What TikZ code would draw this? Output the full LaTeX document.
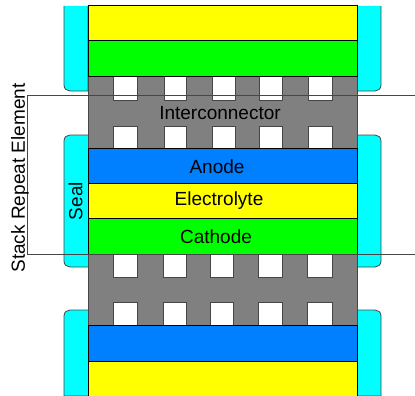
\documentclass[tikz,border=0pt]{standalone}
\usepackage{fontspec}
\setmainfont{Liberation Sans}
\definecolor{sealc}{RGB}{0,255,255}
\definecolor{anodec}{RGB}{0,128,255}
\definecolor{elecc}{RGB}{255,255,0}
\definecolor{cathc}{RGB}{0,255,0}
\definecolor{interc}{RGB}{128,128,128}
\definecolor{linec}{RGB}{70,70,70}
\tikzset{
  layer/.style={draw=black,line width=1pt},
  holebox/.style={draw=linec,fill=white,line width=1pt},
  sealbox/.style={draw=linec,fill=sealc,line width=.8pt},
  label/.style={font=\fontsize{19}{21}\selectfont,inner sep=0pt,text=black},
  guide/.style={draw=linec,line width=.7pt}
}
\newcommand{\holes}[3]{%
  \foreach \a/\b in {#3}{
    \draw[holebox] (\a,#1) rectangle (\b,#2);
  }}
\begin{document}
\begin{tikzpicture}[x=1pt,y=-1pt]
\useasboundingbox (0,0) rectangle (415,396);
% seals
\draw[sealbox] (64,6) -- (64,85) .. controls (64,89) and (67,91) .. (70,91) -- (88,91) -- (88,6);
\draw[sealbox] (381,6) -- (381,85) .. controls (381,89) and (378,91) .. (375,91) -- (357,91) -- (357,6);
\draw[sealbox] (88,135) -- (70,135) .. controls (67,135) and (64,137) .. (64,141) -- (64,261) .. controls (64,265) and (67,267) .. (70,267) -- (88,267);
\draw[sealbox] (357,135) -- (375,135) .. controls (378,135) and (381,137) .. (381,141) -- (381,261) .. controls (381,265) and (378,267) .. (375,267) -- (357,267);
\draw[sealbox] (88,396) -- (64,396) -- (64,316) .. controls (64,312) and (67,310) .. (70,310) -- (88,310);
\draw[sealbox] (357,396) -- (381,396) -- (381,316) .. controls (381,312) and (378,310) .. (375,310) -- (357,310);
% layers
\draw[layer,fill=elecc] (88,6) rectangle (357,41);
\draw[layer,fill=cathc] (88,41) rectangle (357,77);
\fill[interc] (88,77) rectangle (357,148);
\draw[linec,line width=.8pt] (88,77) -- (88,148) (357,77) -- (357,148);
\holes{77}{100}{113/137,164/186,212/235,259/282,308/332}
\holes{126}{148}{113/137,164/186,212/235,259/282,308/332}
\draw[layer,fill=anodec] (88,148) rectangle (357,183);
\draw[layer,fill=elecc] (88,183) rectangle (357,218);
\draw[layer,fill=cathc] (88,218) rectangle (357,254);
\fill[interc] (88,254) rectangle (357,325);
\draw[linec,line width=.8pt] (88,254) -- (88,325) (357,254) -- (357,325);
\holes{254}{277}{113/137,163/186,210/233,258/282,307/332}
\holes{302}{325}{113/137,163/186,210/233,258/282,307/332}
\draw[layer,fill=anodec] (88,325) rectangle (357,361);
\draw[layer,fill=elecc] (88,361) rectangle (357,396);
\draw[layer] (88,77) -- (357,77) (88,148) -- (357,148) (88,254) -- (357,254) (88,325) -- (357,325);
% element bracket
\coordinate (bt) at (27,95);
\coordinate (bb) at (27,254);
\coordinate (rt) at (415,95);
\coordinate (rb) at (415,254);
\draw[guide] (rt) -- (bt) -- (bb) -- (rb);
% labels
\node[label] (inter) at (220,113.5) {Interconnector};
\node[label] (anode) at (217,167) {Anode};
\node[label] (elec) at (219,201) {Electrolyte};
\node[label] (cath) at (216,237) {Cathode};
\node[label,rotate=90] (seal) at (75.5,201) {Seal};
\node[label,rotate=90] (stack) at (20,178) {Stack Repeat Element};
\end{tikzpicture}
\end{document}
